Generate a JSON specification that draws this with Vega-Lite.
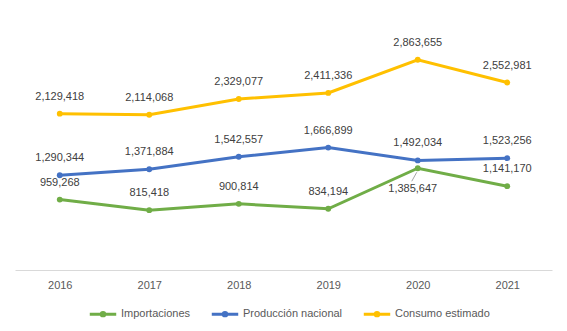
{
  "$schema": "https://vega.github.io/schema/vega-lite/v6.json",
  "width": 537,
  "height": 257,
  "autosize": {"type": "none"},
  "padding": {"left": 15, "top": 13, "right": 15, "bottom": 61},
  "background": "white",
  "config": {
    "view": {"stroke": null},
    "font": "Liberation Sans",
    "axis": {"labelFont": "Liberation Sans", "labelColor": "#595959", "labelFontSize": 11},
    "legend": {"labelFont": "Liberation Sans", "labelColor": "#595959", "labelFontSize": 11}
  },
  "data": {
    "values": [
      {"year": "2016", "serie": "Importaciones", "value": 959268},
      {"year": "2017", "serie": "Importaciones", "value": 815418},
      {"year": "2018", "serie": "Importaciones", "value": 900814},
      {"year": "2019", "serie": "Importaciones", "value": 834194},
      {"year": "2020", "serie": "Importaciones", "value": 1385647},
      {"year": "2021", "serie": "Importaciones", "value": 1141170},
      {"year": "2016", "serie": "Producción nacional", "value": 1290344},
      {"year": "2017", "serie": "Producción nacional", "value": 1371884},
      {"year": "2018", "serie": "Producción nacional", "value": 1542557},
      {"year": "2019", "serie": "Producción nacional", "value": 1666899},
      {"year": "2020", "serie": "Producción nacional", "value": 1492034},
      {"year": "2021", "serie": "Producción nacional", "value": 1523256},
      {"year": "2016", "serie": "Consumo estimado", "value": 2129418},
      {"year": "2017", "serie": "Consumo estimado", "value": 2114068},
      {"year": "2018", "serie": "Consumo estimado", "value": 2329077},
      {"year": "2019", "serie": "Consumo estimado", "value": 2411336},
      {"year": "2020", "serie": "Consumo estimado", "value": 2863655},
      {"year": "2021", "serie": "Consumo estimado", "value": 2552981}
    ]
  },
  "encoding": {
    "x": {
      "field": "year", "type": "ordinal",
      "scale": {"type": "point", "padding": 0.5},
      "axis": {"title": null, "labelAngle": 0, "ticks": false, "domainColor": "#d9d9d9", "domainWidth": 1, "labelPadding": 9, "grid": false}
    },
    "y": {
      "field": "value", "type": "quantitative",
      "scale": {"domain": [0, 3500000], "nice": false},
      "axis": null
    }
  },
  "layer": [
    {
      "transform": [{"filter": "datum.serie == 'Importaciones' && datum.year == '2020'"}],
      "mark": {"type": "rule", "color": "#a6a6a6", "strokeWidth": 1, "yOffset": 4, "y2Offset": 13, "xOffset": -1, "x2Offset": -6},
      "encoding": {"x2": {"field": "year"}, "y2": {"field": "value"}}
    },
    {
      "mark": {"type": "line", "strokeWidth": 3, "point": {"size": 34, "filled": true, "opacity": 1}},
      "encoding": {
        "color": {
          "field": "serie", "type": "nominal",
          "scale": {"domain": ["Importaciones", "Producción nacional", "Consumo estimado"], "range": ["#70AD47", "#4472C4", "#FFC000"]},
          "legend": {
            "title": null, "orient": "none", "direction": "horizontal",
            "legendX": 73, "legendY": 286,
            "symbolType": "M-1,0H1M0.13,0A0.13,0.13,0,1,1,-0.13,0A0.13,0.13,0,1,1,0.13,0",
            "symbolSize": 700, "symbolStrokeWidth": 3, "labelOffset": 3, "columnPadding": 14
          }
        }
      }
    },
    {
      "transform": [{"filter": "!(datum.serie == 'Importaciones' && datum.year == '2020')"}],
      "mark": {"type": "text", "dy": -17, "fontSize": 11, "color": "#404040", "font": "Liberation Sans"},
      "encoding": {"text": {"field": "value", "type": "quantitative", "format": ","}}
    },
    {
      "transform": [{"filter": "datum.serie == 'Importaciones' && datum.year == '2020'"}],
      "mark": {"type": "text", "dy": 21, "dx": -5, "fontSize": 11, "color": "#404040", "font": "Liberation Sans"},
      "encoding": {"text": {"field": "value", "type": "quantitative", "format": ","}}
    }
  ]
}
